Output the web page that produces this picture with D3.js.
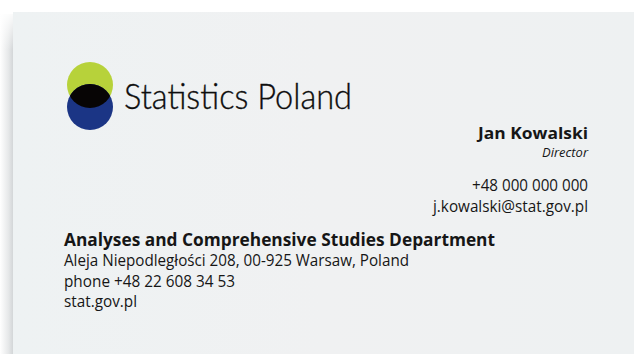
<!DOCTYPE html>
<html><head><meta charset="utf-8">
<script src="https://cdn.jsdelivr.net/npm/d3@7"></script>
<style>html,body{margin:0;padding:0;background:#fff;overflow:hidden}</style>
</head><body>
<script>
const brandName = ["Statistics Poland"];
const logoCircles = ["green", "blue"];
const personLines = ["Jan Kowalski", "Director", "+48 000 000 000", "j.kowalski@stat.gov.pl"];
const personStyles = ["bold", "italic", "normal", "normal"];
const deptLines = ["Analyses and Comprehensive Studies Department", "Aleja Niepodległości 208, 00-925 Warsaw, Poland", "phone +48 22 608 34 53", "stat.gov.pl"];
const deptStyles = ["bold", "normal", "normal", "normal"];

const W = 634, H = 354;
const svg = d3.select("body").append("svg").attr("width", W).attr("height", H);
const defs = svg.append("defs");

// shadow gradient on left
const sh = defs.append("linearGradient").attr("id","sh").attr("x1",0).attr("x2",1).attr("y1",0).attr("y2",0);
sh.append("stop").attr("offset",0).attr("stop-color","#fff");
sh.append("stop").attr("offset",0.6).attr("stop-color","#e6e8e9");
sh.append("stop").attr("offset",1).attr("stop-color","#cfd2d4");
const shv = defs.append("linearGradient").attr("id","shv").attr("x1",0).attr("x2",0).attr("y1",0).attr("y2",1);
shv.append("stop").attr("offset",0).attr("stop-color","#fff").attr("stop-opacity",1);
shv.append("stop").attr("offset",1).attr("stop-color","#fff").attr("stop-opacity",0);
svg.append("rect").attr("x",0).attr("y",14).attr("width",14).attr("height",H-14).attr("fill","url(#sh)");
svg.append("rect").attr("x",0).attr("y",10).attr("width",14).attr("height",40).attr("fill","url(#shv)");

const cg = defs.append("linearGradient").attr("id","cg").attr("x1",0).attr("x2",1).attr("y1",0).attr("y2",0);
cg.append("stop").attr("offset",0).attr("stop-color","#eef2f3");
cg.append("stop").attr("offset",0.5).attr("stop-color","#f0f1f2");
cg.append("stop").attr("offset",1).attr("stop-color","#eef1f2");
svg.append("rect").attr("x",13).attr("y",12).attr("width",W-13).attr("height",H-12).attr("fill","url(#cg)");

// logo
const r = 23;
const cy = d3.scaleOrdinal().domain(logoCircles).range([85, 107]);
const col = d3.scaleOrdinal().domain(logoCircles).range(["#b7d23a", "#1b3585"]);
const logo = svg.append("g");
logo.selectAll("circle").data(logoCircles).join("circle")
  .attr("cx", 90).attr("cy", d => cy(d)).attr("r", r).attr("fill", d => col(d));
defs.append("clipPath").attr("id","cp").append("circle").attr("cx",90).attr("cy",cy("green")).attr("r",r);
logo.append("circle").attr("cx",90).attr("cy",cy("blue")).attr("r",r).attr("fill","#070505").attr("clip-path","url(#cp)");

svg.selectAll("text.brand").data(brandName).join("text").attr("class","brand")
  .attr("x",124).attr("y",108.5).attr("font-family","Lato").attr("font-weight",300)
  .attr("font-size",35).attr("fill","#0d0d0d").attr("stroke","#0d0d0d").attr("stroke-width",0.35)
  .attr("textLength",228).attr("lengthAdjust","spacingAndGlyphs").text(d=>d);

const font = "'Open Sans', sans-serif";
const pY = [139, 156.5, 191, 212];
const pSize = [16, 12, 16, 16];
const pLen = [110, 46, 116, 155];
svg.selectAll("text.p").data(personLines).join("text").attr("class","p")
  .attr("x",588).attr("y",(d,i)=>pY[i]).attr("text-anchor","end")
  .attr("font-family",font).attr("fill","#161616")
  .attr("font-weight",(d,i)=>personStyles[i]==="bold"?700:400)
  .attr("font-style",(d,i)=>personStyles[i]==="italic"?"italic":"normal")
  .attr("font-size",(d,i)=>pSize[i])
  .attr("textLength",(d,i)=>pLen[i]).attr("lengthAdjust","spacingAndGlyphs")
  .text(d=>d);

const dY = [246, 266, 287, 307];
const dLen = [431, 345, 171, 73];
svg.selectAll("text.d").data(deptLines).join("text").attr("class","d")
  .attr("x",64).attr("y",(d,i)=>dY[i])
  .attr("font-family",font).attr("fill","#161616")
  .attr("font-weight",(d,i)=>deptStyles[i]==="bold"?700:400)
  .attr("font-size",(d,i)=>deptStyles[i]==="bold"?17.5:16)
  .attr("textLength",(d,i)=>dLen[i]).attr("lengthAdjust","spacingAndGlyphs")
  .text(d=>d);
</script>
</body></html>
